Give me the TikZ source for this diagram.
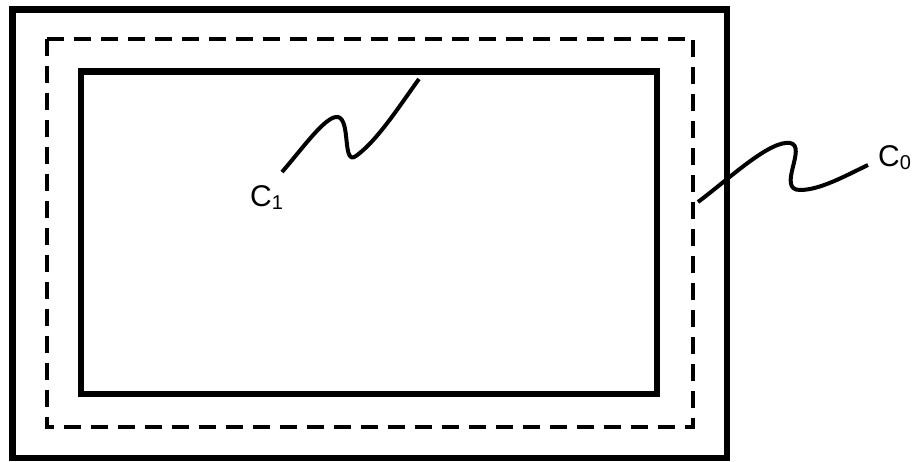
\documentclass[tikz,border=0pt]{standalone}
\usepackage{fontspec}
\setmainfont{Liberation Sans}
\newcommand{\mysub}[1]{\raisebox{-3pt}{\fontsize{20}{24}\selectfont #1}}
\begin{document}
\begin{tikzpicture}[x=1pt,y=-1pt,
  thickrect/.style={line width=6.5pt},
  dashrect/.style={line width=4pt,dash pattern=on 17pt off 10pt},
  leader/.style={line width=4pt},
  lbl/.style={anchor=base west,inner sep=0pt,font=\fontsize{30}{34}\selectfont}]
\useasboundingbox (0,0) rectangle (914,462);
\draw[thickrect] (12.5,9.5) rectangle (727,458);
\draw[dashrect] (46.5,39) rectangle (693,427);
\draw[thickrect] (81,71.5) rectangle (657,394);
\node[lbl] (c1) at (250,207) {C\mysub{1}};
\node[lbl] (c0) at (878,167) {C\mysub{0}};
\coordinate (c1a) at (282,172);
\coordinate (c1b) at (419,79);
\coordinate (c0a) at (698,202);
\coordinate (c0b) at (868,165);
\draw[leader] (c1a) .. controls (303,148) and (326,115) .. (338,117)
  .. controls (351,120) and (342,166) .. (356,156)
  .. controls (378,140) and (400,105) .. (c1b);
\draw[leader] (c0b) .. controls (845,176) and (820,190) .. (800,190)
  .. controls (776,190) and (808,146) .. (790,143)
  .. controls (770,140) and (730,178) .. (c0a);
\end{tikzpicture}
\end{document}
